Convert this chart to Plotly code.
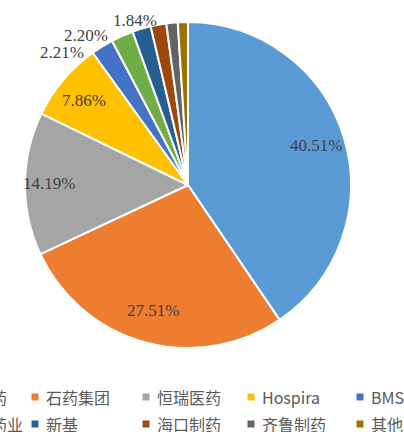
import math
import plotly.graph_objects as go

# Data
companies = ["绿叶制药", "石药集团", "恒瑞医药", "Hospira", "BMS",
             "扬子江药业", "新基", "海口制药", "齐鲁制药", "其他"]
shares = [40.51, 27.51, 14.19, 7.86, 2.21, 2.20, 1.84, 1.55, 1.13, 1.00]
shown_labels = ["40.51%", "27.51%", "14.19%", "7.86%", "2.21%",
                "2.20%", "1.84%", "", "", ""]
colors = ["#5B9BD5", "#ED7D31", "#A5A5A5", "#FFC000", "#4472C4",
          "#70AD47", "#255E91", "#9E480E", "#636363", "#997300"]

W, H = 404, 432
CX, CY, R = 188, 185, 163          # pie centre / radius in pixels

fig = go.Figure()
fig.add_trace(go.Pie(
    labels=companies, values=shares,
    textinfo="none", sort=False, direction="clockwise", rotation=0,
    marker=dict(colors=colors, line=dict(color="white", width=2)),
    domain=dict(x=[(CX - R) / W, (CX + R) / W], y=[1 - (CY + R) / H, 1 - (CY - R) / H]),
    showlegend=False, hoverinfo="label+percent",
))

# Data labels positioned from each slice's mid angle
radial = [0.82, 0.80, 0.85, 0.80, 0.955, 1.0, 1.05, 0, 0, 0]
anchors = ["center", "center", "center", "center", "right", "right", "center",
           "center", "center", "center"]
shifts = [0, 0, 0, -4, -20, -12, -4, 0, 0, 0]
annotations = []
total = sum(shares)
cum = 0.0
for v, t, rf, xa, sh in zip(shares, shown_labels, radial, anchors, shifts):
    mid = (cum + v / 2) / total * 2 * math.pi
    cum += v
    if not t:
        continue
    px = CX + rf * R * math.sin(mid)
    py = CY - rf * R * math.cos(mid)
    annotations.append(dict(text=t, xref="paper", yref="paper",
                            x=px / W, y=1 - py / H, xanchor=xa, yanchor="middle",
                            xshift=sh, showarrow=False,
                            font=dict(family="Liberation Serif", size=17, color="#404040")))

# Manual legend (5 columns x 2 rows, left column partly outside the canvas)
col_x = [-68, 35, 146, 251, 360]
row_y = [397, 424]
shapes = []
for i, (name, c) in enumerate(zip(companies, colors)):
    r, k = divmod(i, 5)
    mx, my = col_x[k], row_y[r]
    shapes.append(dict(type="rect", xref="paper", yref="paper",
                       x0=(mx - 3.5) / W, x1=(mx + 3.5) / W,
                       y0=1 - (my + 3.5) / H, y1=1 - (my - 3.5) / H,
                       fillcolor=c, line=dict(width=0)))
    annotations.append(dict(text=name, xref="paper", yref="paper",
                            x=(mx + 9) / W, y=1 - my / H,
                            xanchor="left", yanchor="middle", showarrow=False,
                            font=dict(family="Noto Sans CJK SC", size=16, color="#595959")))

fig.update_layout(
    width=W, height=H, margin=dict(l=0, r=0, t=0, b=0),
    paper_bgcolor="white", plot_bgcolor="white",
    shapes=shapes, annotations=annotations,
)
fig.write_html("out.html", config={"displayModeBar": False},
               post_script="document.body.style.margin='0px';")
